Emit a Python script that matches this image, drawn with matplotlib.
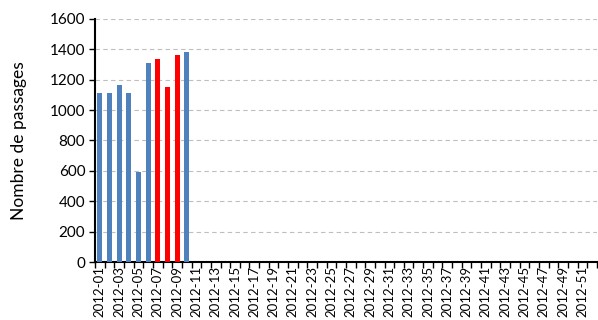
import matplotlib
matplotlib.use('Agg')
import matplotlib.pyplot as plt
import numpy as np

plt.rcParams['font.family'] = ['Lato', 'DejaVu Sans']

# semaines 2012 et nombre de passages
semaines = ['2012-%02d' % i for i in range(1, 53)]
passages = [1115, 1115, 1165, 1115, 595, 1310, 1335, 1150, 1360, 1380]
semaines_rouges = ['2012-07', '2012-08', '2012-09']

bleu = '#4F81BD'
rouge = '#FF0000'

fig = plt.figure(figsize=(5.98, 3.2), dpi=100)
ax = fig.add_axes([0.159, 0.181, 0.839, 0.760])

x = np.arange(len(semaines))
couleurs = [rouge if s in semaines_rouges else bleu for s in semaines[:len(passages)]]
ax.bar(x[:len(passages)], passages, width=0.5, color=couleurs, zorder=3)

ax.set_xlim(-0.5, len(semaines) - 0.5)
ax.set_ylim(0, 1600)
ax.set_yticks(range(0, 1601, 200))
ax.yaxis.grid(True, linestyle=(0, (4, 3)), color='#BFBFBF', linewidth=0.8, zorder=0)

ax.set_xticks(x[::2])
ax.set_xticklabels(semaines[::2], rotation=90, fontsize=9.5)
ax.set_xticks(np.arange(-0.5, len(semaines), 1), minor=True)
ax.tick_params(axis='x', which='major', length=0, pad=3)
ax.tick_params(axis='x', which='minor', length=4, width=1, direction='out')
ax.tick_params(axis='y', labelsize=11, length=4, width=1, pad=3)

for s in ['top', 'right']:
    ax.spines[s].set_visible(False)
for s in ['left', 'bottom']:
    ax.spines[s].set_linewidth(1.5)

ax.set_ylabel('Nombre de passages', fontsize=12.5)
ax.yaxis.set_label_coords(-0.135, 0.5)

fig.savefig('out.png', dpi=100)
